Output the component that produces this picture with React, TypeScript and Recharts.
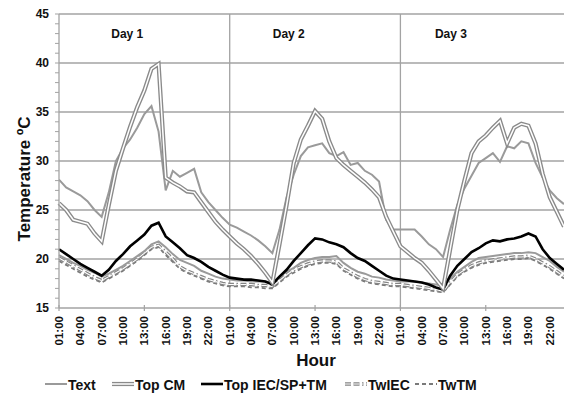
import React from 'react';
import { LineChart, Line, XAxis, YAxis, ReferenceLine, ReferenceDot, Customized } from 'recharts';

// ---- data (hourly, 3 days, 01:00 day 1 .. 24:00 day 3) ----
const tickLabels = ['01:00', '04:00', '07:00', '10:00', '13:00', '16:00', '19:00', '22:00'];
const xTicks = [0, 3, 6, 9, 12, 15, 18, 21, 24, 27, 30, 33, 36, 39, 42, 45, 48, 51, 54, 57, 60, 63, 66, 69];
const yTicks = [15, 16, 17, 18, 19, 20, 21, 22, 23, 24, 25, 26, 27, 28, 29, 30, 31, 32, 33, 34, 35, 36, 37, 38, 39, 40, 41, 42, 43, 44, 45];
const yGrid = [20, 25, 30, 35, 40, 45];
const dayStarts = [24, 48];
const dayLabels = ['Day 1', 'Day 2', 'Day 3'];
const dayLabelX = [9.6, 32.3, 55.1];

const text = [
  28.1, 27.3, 26.9, 26.5, 25.9, 25.0, 24.3, 26.8, 30.0, 31.3, 32.2, 33.4, 34.8, 35.6, 33.0, 27.0, 29.0, 28.4, 28.8, 29.2, 26.8, 25.8, 25.0, 24.2,
  23.5, 23.2, 22.8, 22.4, 21.9, 21.3, 20.6, 23.0, 26.3, 28.6, 30.5, 31.4, 31.6, 31.8, 30.8, 30.5, 30.9, 29.6, 29.8, 29.0, 28.6, 27.9, 24.0, 23.0,
  23.0, 23.0, 23.0, 22.3, 21.5, 21.0, 20.2, 23.0, 25.5, 27.2, 28.5, 29.8, 30.3, 30.8, 29.9, 31.5, 31.3, 32.0, 31.8, 29.8, 28.3, 27.0, 26.2, 25.6,
];
const topCM = [
  25.7, 25.0, 24.0, 23.8, 23.6, 22.6, 21.8, 25.5, 29.0, 31.3, 33.5, 35.5, 37.2, 39.4, 39.9, 28.3, 27.8, 27.4, 26.9, 26.8, 25.8, 24.8, 23.8, 23.0,
  22.3, 21.6, 21.0, 20.3, 19.5, 18.6, 17.6, 21.5, 25.5, 29.8, 32.2, 33.6, 35.1, 34.3, 32.0, 30.3, 29.6, 29.0, 28.4, 27.8, 27.1, 26.3, 24.3, 22.8,
  21.3, 20.7, 20.1, 19.6, 18.8, 17.9, 17.0, 21.0, 25.0, 28.0, 30.8, 32.0, 32.6, 33.4, 34.1, 31.8, 33.4, 33.8, 33.6, 31.8, 28.7, 26.3, 24.8, 23.3,
];
const topIEC = [
  21.0, 20.5, 20.0, 19.5, 19.1, 18.7, 18.3, 18.9, 19.8, 20.5, 21.3, 21.9, 22.5, 23.4, 23.7, 22.3, 21.7, 21.1, 20.4, 20.1, 19.7, 19.2, 18.8, 18.4,
  18.1, 18.0, 17.9, 17.9, 17.8, 17.7, 17.4, 18.2, 18.9, 19.8, 20.6, 21.4, 22.1, 22.0, 21.7, 21.5, 21.2, 20.6, 20.1, 19.8, 19.3, 18.8, 18.3, 18.0,
  17.9, 17.8, 17.7, 17.6, 17.4, 17.1, 16.9, 18.3, 19.3, 20.0, 20.7, 21.1, 21.6, 21.9, 21.8, 22.0, 22.1, 22.3, 22.6, 22.3, 21.0, 20.1, 19.5, 18.9,
];
const twOther = [
  20.4, 20.0, 19.6, 19.3, 18.9, 18.6, 18.2, 18.5, 18.9, 19.3, 19.8, 20.3, 20.8, 21.5, 21.8, 21.2, 20.5, 19.9, 19.6, 19.3, 18.8, 18.5, 18.2, 18.0,
  17.9, 17.8, 17.8, 17.7, 17.7, 17.7, 17.6, 18.2, 18.7, 19.1, 19.6, 19.9, 20.1, 20.2, 20.2, 20.3, 19.6, 19.1, 18.7, 18.5, 18.2, 18.1, 17.9, 17.8,
  17.7, 17.7, 17.7, 17.6, 17.5, 17.4, 17.3, 18.0, 18.7, 19.2, 19.7, 20.1, 20.2, 20.3, 20.4, 20.5, 20.6, 20.6, 20.7, 20.6, 20.2, 19.8, 19.2, 18.7,
];
const twIEC = [
  20.1, 19.7, 19.3, 18.9, 18.5, 18.1, 17.8, 18.2, 18.6, 19.0, 19.5, 20.0, 20.6, 21.2, 21.4, 20.7, 20.0, 19.2, 18.8, 18.5, 18.2, 17.9, 17.7, 17.5,
  17.4, 17.4, 17.4, 17.4, 17.3, 17.3, 17.2, 17.8, 18.4, 18.9, 19.2, 19.5, 19.7, 19.8, 19.8, 19.7, 19.0, 18.6, 18.2, 17.9, 17.7, 17.6, 17.5, 17.4,
  17.4, 17.3, 17.2, 17.1, 17.0, 16.9, 16.7, 17.6, 18.4, 18.9, 19.3, 19.6, 19.8, 19.9, 20.0, 20.1, 20.2, 20.2, 20.3, 20.0, 19.6, 19.2, 18.7, 18.2,
];
const twTM = [
  19.8, 19.4, 19.0, 18.6, 18.2, 17.9, 17.6, 18.0, 18.4, 18.8, 19.3, 19.8, 20.4, 21.0, 21.2, 20.4, 19.7, 19.0, 18.6, 18.3, 18.0, 17.7, 17.5, 17.3,
  17.2, 17.2, 17.2, 17.1, 17.1, 17.0, 17.0, 17.6, 18.2, 18.6, 19.0, 19.3, 19.5, 19.6, 19.6, 19.5, 18.8, 18.4, 18.0, 17.7, 17.5, 17.4, 17.3, 17.2,
  17.2, 17.1, 17.0, 16.9, 16.8, 16.7, 16.6, 17.4, 18.2, 18.7, 19.1, 19.4, 19.6, 19.7, 19.8, 19.9, 20.0, 20.0, 20.1, 19.8, 19.4, 19.0, 18.5, 18.0,
];

const data = text.map((_, i) => ({
  i,
  text: text[i],
  topCM: topCM[i],
  topIEC: topIEC[i],
  twOther: twOther[i],
  twIEC: twIEC[i],
  twTM: twTM[i],
}));

const FONT = '"Liberation Sans", Arial, sans-serif';
const GRID = '#a3a3a3';
const TEXT_C = '#9a9a9a';
const CM_C = '#8a8a8a';
const IEC_DASH = '6 2.5 6 2.5 1.5 2.5';
const TM_DASH = '4 3';

const legendItems = [
  { name: 'Text', kind: 'single', x: 45 },
  { name: 'Top CM', kind: 'double', x: 112 },
  { name: 'Top IEC/SP+TM', kind: 'black', x: 201 },
  { name: 'TwIEC', kind: 'ddash', x: 345 },
  { name: 'TwTM', kind: 'dash', x: 415 },
];

const XTick = (props: any) => {
  const { x, y, payload } = props;
  const v = payload.value as number;
  const lbl = tickLabels[(v % 24) / 3];
  return (
    <g>
      {v % 12 === 0 ? <line x1={x} x2={x} y1={y - 3} y2={y + 3} stroke={GRID} strokeWidth={1.2} /> : null}
      <text
        transform={`translate(${x},${y + 8}) rotate(-90)`}
        textAnchor="end"
        dominantBaseline="central"
        fontFamily={FONT}
        fontSize={11.5}
        fontWeight="bold"
        fill="#111"
      >
        {lbl}
      </text>
    </g>
  );
};

const YTick = (props: any) => {
  const { x, y, payload } = props;
  const v = payload.value as number;
  if (v % 5 !== 0) return <g />;
  return (
    <text x={x - 4} y={y} textAnchor="end" dominantBaseline="central" fontFamily={FONT} fontSize={12} fontWeight="bold" fill="#111">
      {v}
    </text>
  );
};

const Marker = ({ kind, x, y }: { kind: string; x: number; y: number }) => {
  const x2 = x + 22;
  if (kind === 'single') return <line x1={x} x2={x2} y1={y} y2={y} stroke={TEXT_C} strokeWidth={2} />;
  if (kind === 'black') return <line x1={x} x2={x2} y1={y} y2={y} stroke="#000" strokeWidth={2.6} />;
  if (kind === 'double')
    return (
      <g>
        <line x1={x} x2={x2} y1={y} y2={y} stroke={CM_C} strokeWidth={4.2} />
        <line x1={x} x2={x2} y1={y} y2={y} stroke="#fff" strokeWidth={1.5} />
      </g>
    );
  if (kind === 'ddash')
    return (
      <g>
        <line x1={x} x2={x2} y1={y} y2={y} stroke="#858585" strokeWidth={3.6} strokeDasharray={IEC_DASH} />
        <line x1={x} x2={x2} y1={y} y2={y} stroke="#fff" strokeWidth={1.2} strokeDasharray={IEC_DASH} />
      </g>
    );
  return <line x1={x} x2={x2} y1={y} y2={y} stroke="#7a7a7a" strokeWidth={2} strokeDasharray={TM_DASH} />;
};

const Decorations = () => (
  <g fontFamily={FONT}>
    <text
      transform="translate(24,179) rotate(-90)"
      textAnchor="middle"
      dominantBaseline="central"
      fontSize={17}
      fontWeight="bold"
      fill="#111"
    >
      Temperature ºC
    </text>
    <text x={316} y={366} textAnchor="middle" fontSize={17} fontWeight="bold" fill="#111">
      Hour
    </text>
    {legendItems.map((it) => (
      <g key={it.name}>
        <Marker kind={it.kind} x={it.x} y={384} />
        <text x={it.x + 23} y={385} dominantBaseline="central" fontSize={14} fontWeight="bold" fill="#111">
          {it.name}
        </text>
      </g>
    ))}
  </g>
);

export default function App() {
  return (
    <div style={{ position: 'absolute', left: 0, top: 0, background: '#fff' }}>
      <LineChart width={564} height={394} data={data} margin={{ top: 14, right: 0, bottom: 0, left: 0 }}>
        <XAxis
          dataKey="i"
          type="number"
          domain={[0, 71]}
          ticks={xTicks}
          interval={0}
          height={86}
          tickSize={0}
          tickMargin={0}
          tickLine={false}
          axisLine={{ stroke: GRID, strokeWidth: 1.3 }}
          tick={<XTick />}
        />
        <YAxis
          type="number"
          domain={[15, 45]}
          ticks={yTicks}
          interval={0}
          width={59}
          tickSize={4}
          tickMargin={2}
          tickLine={{ stroke: GRID, strokeWidth: 1 }}
          axisLine={{ stroke: GRID, strokeWidth: 1.3 }}
          tick={<YTick />}
        />
        {yGrid.map((v) => (
          <ReferenceLine key={'h' + v} y={v} stroke={GRID} strokeWidth={1.3} />
        ))}
        {dayStarts.map((v) => (
          <ReferenceLine key={'v' + v} x={v} stroke={GRID} strokeWidth={1.3} />
        ))}
        {dayLabels.map((d, k) => (
          <ReferenceDot
            key={d}
            x={dayLabelX[k]}
            y={43}
            r={0}
            fill="none"
            stroke="none"
            label={{ value: d, position: 'center', fontFamily: FONT, fontSize: 12, fontWeight: 'bold', fill: '#111' }}
          />
        ))}
        <Line dataKey="twTM" stroke="#7a7a7a" strokeWidth={1.8} strokeDasharray={TM_DASH} dot={false} isAnimationActive={false} />
        <Line dataKey="twIEC" stroke="#858585" strokeWidth={3.4} strokeDasharray={IEC_DASH} dot={false} isAnimationActive={false} />
        <Line dataKey="twIEC" stroke="#fff" strokeWidth={1.1} strokeDasharray={IEC_DASH} dot={false} isAnimationActive={false} />
        <Line dataKey="twOther" stroke={TEXT_C} strokeWidth={2} dot={false} isAnimationActive={false} />
        <Line dataKey="topIEC" stroke="#000" strokeWidth={2.6} dot={false} isAnimationActive={false} />
        <Line dataKey="text" stroke={TEXT_C} strokeWidth={2} dot={false} isAnimationActive={false} />
        <Line dataKey="topCM" stroke={CM_C} strokeWidth={4.2} dot={false} isAnimationActive={false} />
        <Line dataKey="topCM" stroke="#fff" strokeWidth={1.5} dot={false} isAnimationActive={false} />
        <Customized component={Decorations} />
      </LineChart>
    </div>
  );
}
